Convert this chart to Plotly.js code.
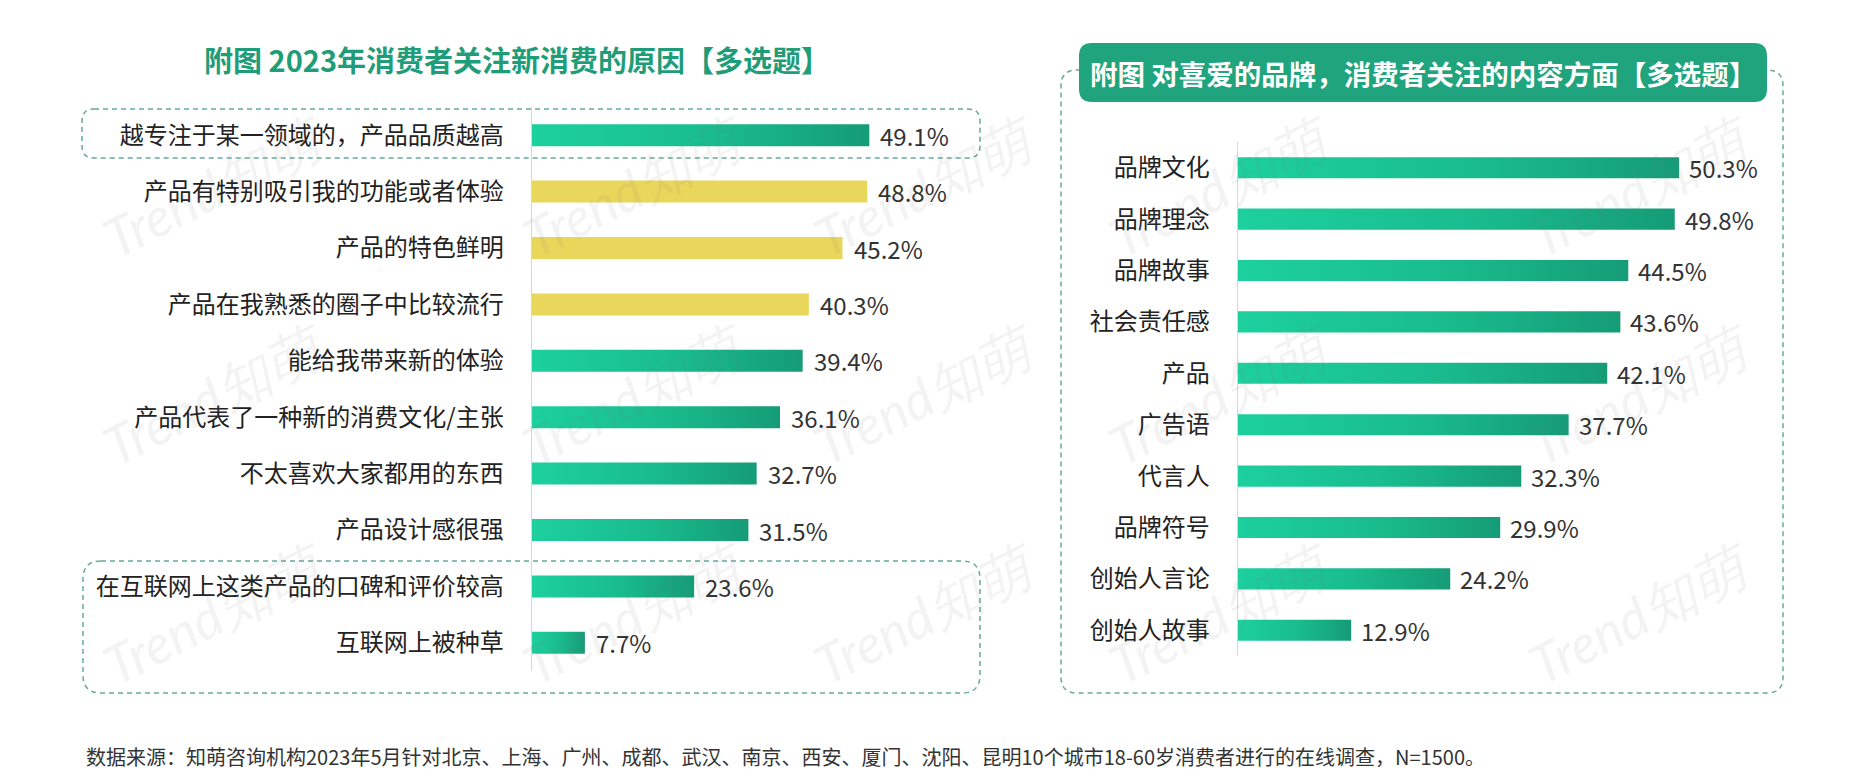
<!DOCTYPE html>
<html>
<head>
<meta charset="utf-8">
<script src="https://cdn.plot.ly/plotly-3.0.1.min.js"></script>
<style>
  html, body { margin: 0; padding: 0; background: #ffffff; }
  #chart { width: 1876px; height: 781px; }
</style>
</head>
<body>
<div id="chart"></div>
<script>
// ---------------- data ----------------
const leftTitle = '附图 2023年消费者关注新消费的原因【多选题】';
const leftCategories = [
  '越专注于某一领域的，产品品质越高',
  '产品有特别吸引我的功能或者体验',
  '产品的特色鲜明',
  '产品在我熟悉的圈子中比较流行',
  '能给我带来新的体验',
  '产品代表了一种新的消费文化/主张',
  '不太喜欢大家都用的东西',
  '产品设计感很强',
  '在互联网上这类产品的口碑和评价较高',
  '互联网上被种草'
];
const leftValues = [49.1, 48.8, 45.2, 40.3, 39.4, 36.1, 32.7, 31.5, 23.6, 7.7];
const leftYellowCategories = [
  '产品有特别吸引我的功能或者体验',
  '产品的特色鲜明',
  '产品在我熟悉的圈子中比较流行'
];

const rightTitle = '附图 对喜爱的品牌，消费者关注的内容方面【多选题】';
const rightCategories = [
  '品牌文化', '品牌理念', '品牌故事', '社会责任感', '产品',
  '广告语', '代言人', '品牌符号', '创始人言论', '创始人故事'
];
const rightValues = [50.3, 49.8, 44.5, 43.6, 42.1, 37.7, 32.3, 29.9, 24.2, 12.9];

const sourceNote = '数据来源：知萌咨询机构2023年5月针对北京、上海、广州、成都、武汉、南京、西安、厦门、沈阳、昆明10个城市18-60岁消费者进行的在线调查，N=1500。';
const watermarkText = 'Trend知萌';

// ---------------- styles ----------------
const W = 1876, H = 781;
const GREEN = '#18b68a';
const YELLOW = '#e9d75b';
const TITLE_GREEN = '#1f9d79';
const BOX_GREEN = '#1fa47e';
const DASH_COLOR = '#66a99c';
const CJK = '"Noto Sans CJK SC", "Noto Sans", sans-serif';

const px = v => v / W;
const py = v => 1 - v / H;

function roundedRect(x0, y0, x1, y1, r) {
  const rx = r / W, ry = r / H;
  const X0 = px(x0), X1 = px(x1), T = py(y0), B = py(y1);
  return `M${X0 + rx},${T} L${X1 - rx},${T} Q${X1},${T} ${X1},${T - ry} ` +
         `L${X1},${B + ry} Q${X1},${B} ${X1 - rx},${B} L${X0 + rx},${B} ` +
         `Q${X0},${B} ${X0},${B + ry} L${X0},${T - ry} Q${X0},${T} ${X0 + rx},${T} Z`;
}

const leftColors = leftCategories.map(c => leftYellowCategories.includes(c) ? YELLOW : GREEN);

const traces = [
  {
    type: 'bar', orientation: 'h',
    x: leftValues, y: leftCategories,
    xaxis: 'x', yaxis: 'y',
    width: 0.39,
    marker: { color: leftColors, line: { width: 0 } },
    hoverinfo: 'skip'
  },
  {
    type: 'bar', orientation: 'h',
    x: rightValues, y: rightCategories,
    xaxis: 'x2', yaxis: 'y2',
    width: 0.41,
    marker: { color: GREEN, line: { width: 0 } },
    hoverinfo: 'skip'
  }
];

const annotations = [];

// watermarks (faint, underneath visually)
const wmCols = [90, 510, 925, 1345, 1765];
const wmRows = [100, 395, 700];
wmRows.forEach(r => wmCols.forEach(c => {
  annotations.push({
    xref: 'paper', yref: 'paper', x: px(c), y: py(r),
    text: watermarkText, showarrow: false, textangle: -27,
    font: { family: 'Lato, sans-serif', size: 54, color: 'rgba(120,120,120,0.09)', style: 'italic' }
  });
}));

// value labels
leftValues.forEach((v, i) => annotations.push({
  xref: 'x', yref: 'y', x: v, y: leftCategories[i],
  text: v.toFixed(1) + '%', showarrow: false, xanchor: 'left', xshift: 9,
  font: { family: CJK, size: 24, color: '#333333' }
}));
rightValues.forEach((v, i) => annotations.push({
  xref: 'x2', yref: 'y2', x: v, y: rightCategories[i],
  text: v.toFixed(1) + '%', showarrow: false, xanchor: 'left', xshift: 8,
  font: { family: CJK, size: 24, color: '#333333' }
}));

// titles
annotations.push({
  xref: 'paper', yref: 'paper', x: px(517), y: py(59),
  text: leftTitle, showarrow: false, xanchor: 'center', yanchor: 'middle',
  font: { family: CJK, size: 29, color: TITLE_GREEN, weight: 700 }
});
annotations.push({
  xref: 'paper', yref: 'paper', x: px(1423), y: py(73),
  text: rightTitle, showarrow: false, xanchor: 'center', yanchor: 'middle',
  font: { family: CJK, size: 27.5, color: '#ffffff', weight: 700 }
});
// source note
annotations.push({
  xref: 'paper', yref: 'paper', x: px(84), y: py(756),
  text: sourceNote, showarrow: false, xanchor: 'left', yanchor: 'middle',
  font: { family: CJK, size: 20, color: '#333333' }
});

const dashLine = { color: DASH_COLOR, width: 1.5, dash: '5px,4px' };
const shapes = [
  { type: 'path', xref: 'paper', yref: 'paper', layer: 'below', path: roundedRect(82, 109, 980, 158, 12), line: dashLine },
  { type: 'path', xref: 'paper', yref: 'paper', layer: 'below', path: roundedRect(83, 561, 980, 693, 18), line: dashLine },
  { type: 'path', xref: 'paper', yref: 'paper', layer: 'below', path: roundedRect(1061, 70, 1783, 693, 16), line: dashLine },
  { type: 'path', xref: 'paper', yref: 'paper', layer: 'below', path: roundedRect(1079, 43, 1767, 102, 13), line: { width: 0 }, fillcolor: BOX_GREEN }
];

const catAxis = (domain) => ({
  domain: domain, type: 'category', autorange: 'reversed',
  showline: true, linecolor: '#d6d6d6', linewidth: 1.5,
  showgrid: false, zeroline: false,
  ticks: 'outside', ticklen: 22, tickcolor: 'rgba(0,0,0,0)',
  tickfont: { family: CJK, size: 24, color: '#222222' }
});

const layout = {
  width: W, height: H,
  margin: { l: 0, r: 0, t: 0, b: 0 },
  paper_bgcolor: '#ffffff', plot_bgcolor: 'rgba(0,0,0,0)',
  showlegend: false,
  xaxis: { domain: [px(532), px(980)], range: [0, 448 / 6.87], visible: false, fixedrange: true },
  yaxis: Object.assign(catAxis([py(671), py(107)]), { anchor: 'x' }),
  xaxis2: { domain: [px(1238), px(1780)], range: [0, 542 / 8.77], visible: false, fixedrange: true, anchor: 'y2' },
  yaxis2: Object.assign(catAxis([py(656), py(142)]), { anchor: 'x2' }),
  shapes: shapes,
  annotations: annotations
};

const gd = document.getElementById('chart');

function applyGradient() {
  const svg = gd.querySelector('.main-svg');
  if (!svg) return;
  let defs = svg.querySelector('defs');
  if (!defs) { defs = document.createElementNS('http://www.w3.org/2000/svg', 'defs'); svg.insertBefore(defs, svg.firstChild); }
  if (!svg.querySelector('#barGreenGrad')) {
    const g = document.createElementNS('http://www.w3.org/2000/svg', 'linearGradient');
    g.setAttribute('id', 'barGreenGrad');
    g.setAttribute('x1', '0'); g.setAttribute('y1', '0');
    g.setAttribute('x2', '1'); g.setAttribute('y2', '0');
    [['0', '#1dd09e'], ['0.55', '#19bb8d'], ['1', '#159c77']].forEach(([o, c]) => {
      const s = document.createElementNS('http://www.w3.org/2000/svg', 'stop');
      s.setAttribute('offset', o); s.setAttribute('stop-color', c);
      g.appendChild(s);
    });
    defs.appendChild(g);
  }
  gd.querySelectorAll('.barlayer .point path').forEach(p => {
    const f = (p.style.fill || '').replace(/\s/g, '');
    if (f === 'rgb(24,182,138)') p.style.fill = 'url(#barGreenGrad)';
  });
}

Plotly.newPlot(gd, traces, layout, { staticPlot: true, displayModeBar: false }).then(applyGradient);
gd.on && gd.on('plotly_afterplot', applyGradient);
</script>
</body>
</html>
